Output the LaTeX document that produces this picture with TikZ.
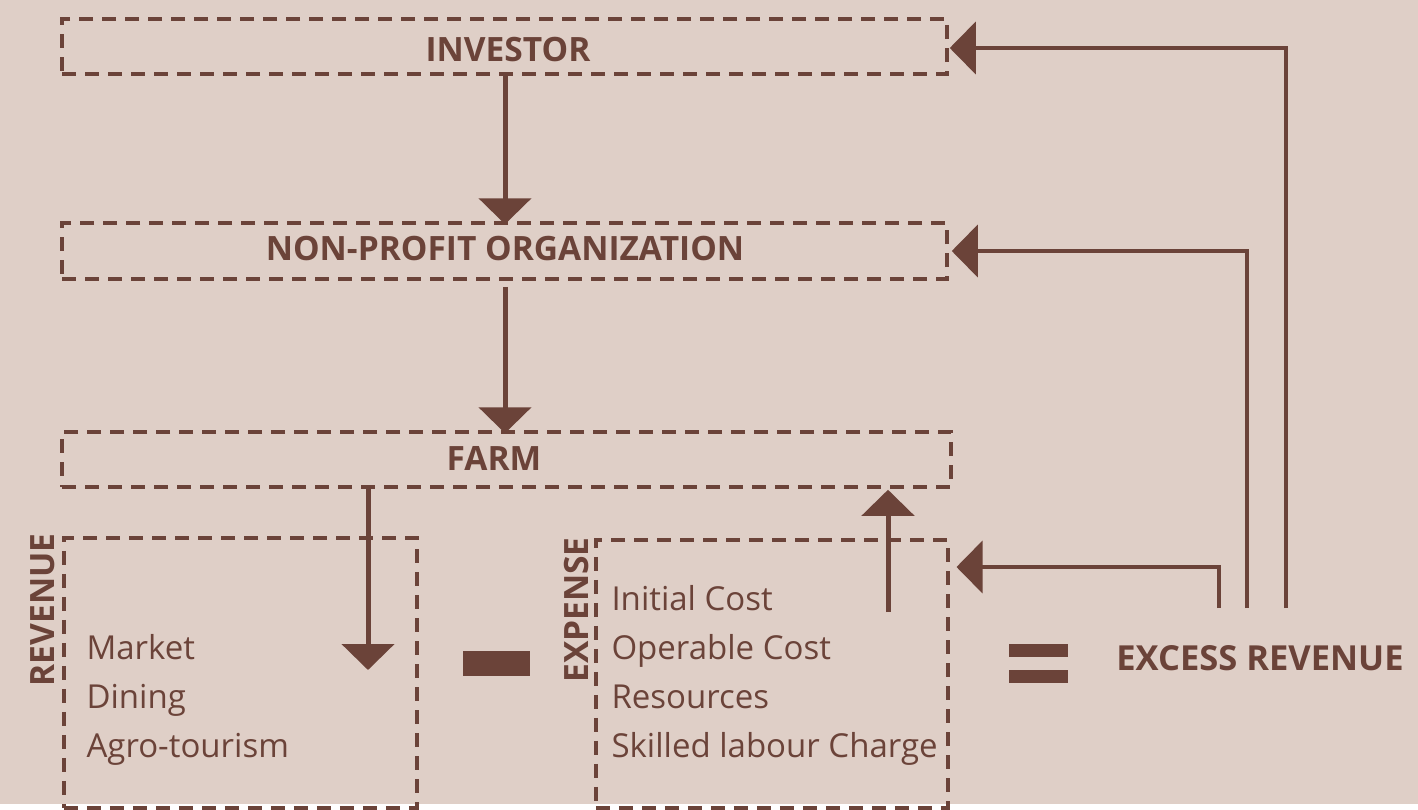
\documentclass[tikz,border=0pt]{standalone}
\usepackage{fontspec}
\setmainfont{Open Sans}
\usetikzlibrary{arrows.meta}
\definecolor{bgc}{HTML}{DFCFC7}
\definecolor{ink}{HTML}{6B4339}
\begin{document}
\begin{tikzpicture}[x=1pt,y=-1pt,
  box/.style={draw=ink,line width=3.5pt,dash pattern=on 14pt off 9pt,inner sep=0pt},
  arr/.style={draw=ink,line width=5pt,-{Triangle[width=52pt,length=26pt]}},
  thin/.style={draw=ink,line width=4pt,-{Triangle[width=52pt,length=26pt]}},
  title/.style={text=ink,font=\fontsize{33.5}{38}\selectfont\bfseries},
  item/.style={text=ink,font=\fontsize{33}{49}\selectfont,align=left,anchor=west}
]
\fill[bgc] (0,0) rectangle (1418,804);
\node[box,minimum width=885pt,minimum height=55pt] (inv) at (504.5,46.5) {};
\node[title] at (508,50) {INVESTOR};
\node[box,minimum width=885pt,minimum height=56pt] (npo) at (504.5,251) {};
\node[title] at (505,249) {NON-PROFIT ORGANIZATION};
\node[box,minimum width=889pt,minimum height=55pt] (farm) at (506.5,459.5) {};
\node[title] at (494,458) {FARM};
\node[box,minimum width=353pt,minimum height=270pt,anchor=north west] (rev) at (62,536) {};
\node[box,minimum width=352pt,minimum height=268pt,anchor=north west] (exp) at (594,538) {};
\node[title,rotate=90] at (43,610) {REVENUE};
\node[title,rotate=90] at (577,610) {EXPENSE};
\node[item,anchor=north west] (revitems) at (83,631) {Market\\Dining\\Agro-tourism};
\node[item,anchor=north west] (expitems) at (608,582) {Initial Cost\\Operable Cost\\Resources\\Skilled labour Charge};
\fill[ink] (463,651) rectangle (530,676);
\fill[ink] (1009,644) rectangle (1068,657);
\fill[ink] (1009,670) rectangle (1068,683);
\node[title,font=\fontsize{34.5}{38}\selectfont\bfseries] (exc) at (1260,658) {EXCESS REVENUE};
% vertical arrows
\coordinate (mx) at (505,0);
\draw[arr] (inv.south -| mx) -- ([yshift=-3pt]npo.north -| mx);
\draw[arr] ([yshift=-6pt]npo.south -| mx) -- ([yshift=-3pt]farm.north -| mx);
\coordinate (fr) at (368,670);
\draw[arr] (farm.south -| fr) -- (fr);
\coordinate (eu) at (888,612);
\draw[arr] (eu) -- ([yshift=-1pt]farm.south -| eu);
% return connectors
\coordinate (e1) at (1219,608);
\coordinate (e2) at (1247,608);
\coordinate (e3) at (1286,608);
\draw[thin] (e1) |- ([xshift=7pt]exp.east |- 0,567);
\draw[thin] (e2) |- ([xshift=3pt]npo.east);
\draw[thin] (e3) |- ([xshift=1pt]inv.east |- 0,48);
\end{tikzpicture}
\end{document}
